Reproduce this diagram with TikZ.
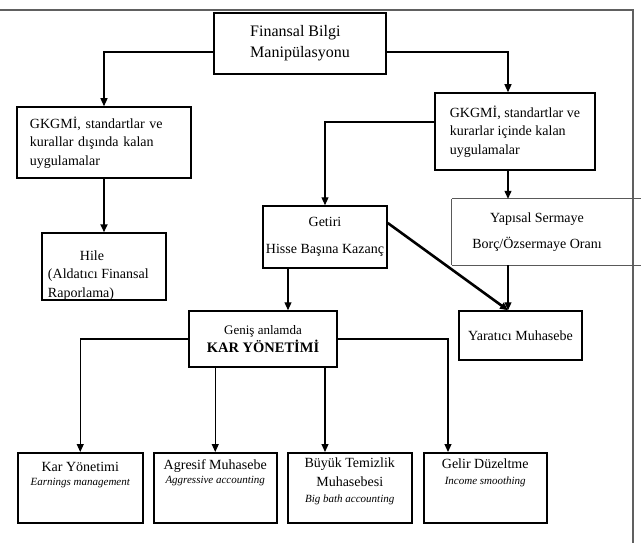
\documentclass[tikz,border=0pt]{standalone}
\usepackage{fontspec}
\setmainfont{Liberation Serif}
\usetikzlibrary{arrows.meta}

\begin{document}
\begin{tikzpicture}[x=1pt,y=-1pt,
    kutu/.style={draw,line width=1.5pt,inner sep=0pt,font=\fontsize{14}{18.5}\selectfont},
    ok/.style={line width=1.2pt,-{Triangle[length=8pt,width=7pt]}},
    ince/.style={line width=0.9pt,gray!70!black}]
  \useasboundingbox (0,0) rectangle (641,543);
  % dis cerceve
  \draw[line width=1.6pt,gray!75!black] (0,10) -- (633,10) -- (633,543);

  % ust kutular
  \node[kutu,minimum width=172pt,minimum height=61pt,align=left,font=\fontsize{16}{21}\selectfont] (fbm) at (300,43.5) {Finansal Bilgi\\Manipülasyonu};
  \node[kutu,minimum width=174pt,minimum height=71pt,text width=148pt,align=left] (disi) at (104,142.5) {GKGMİ, standartlar ve\\kurallar dışında kalan\\uygulamalar};
  \node[kutu,minimum width=160pt,minimum height=77pt,align=left] (ici) at (515,131.5) {GKGMİ, standartlar ve\\kurarlar içinde kalan\\uygulamalar};
  \node[kutu,minimum width=124pt,minimum height=67pt] (hile) at (104,266.5) {\parbox[c][67pt][t]{112pt}{\raggedright\rule{0pt}{27pt}\hspace*{32pt}Hile\\(Aldatıcı Finansal\\Raporlama)}};

  % orta kutular
  \node[kutu,minimum width=124pt,minimum height=62pt,align=center] (getiri) at (325,237) {Getiri\\[9pt]Hisse Başına Kazanç};
  \node[inner sep=0pt,minimum width=170pt,minimum height=66pt,align=center,font=\fontsize{14}{18.5}\selectfont] (yapi) at (537,232) {Yapısal Sermaye\\[8pt]Borç/Özsermaye Oranı};
  \draw[ince] (yapi.north west) -- (yapi.south west) (yapi.north west) -- ++(189,0) (yapi.south west) -- ++(189,0);
  \node[kutu,minimum width=123pt,minimum height=49pt] (yaratici) at (520.5,335.5) {Yaratıcı Muhasebe};
  \node[kutu,minimum width=148pt,minimum height=56pt,align=center] (kar) at (263,339) {{\fontsize{13}{16}\selectfont Geniş anlamda}\\{\bfseries\fontsize{14.5}{21}\selectfont KAR YÖNETİMİ}};

  % alt kutular
  \node[kutu,anchor=north west,minimum width=125pt,minimum height=70pt] (karyon) at (17,452) {\parbox[c][70pt][t]{125pt}{\centering\rule{0pt}{19pt}Kar Yönetimi\par{\fontsize{11}{14}\selectfont\itshape Earnings management\par}}};
  \node[kutu,anchor=north west,minimum width=123pt,minimum height=70pt] (agresif) at (153,452) {\parbox[c][70pt][t]{123pt}{\centering\rule{0pt}{17pt}Agresif Muhasebe\par{\fontsize{11}{14}\selectfont\itshape Aggressive accounting\par}}};
  \node[kutu,anchor=north west,minimum width=124pt,minimum height=70pt] (buyuk) at (287,452) {\parbox[c][70pt][t]{124pt}{\centering\rule{0pt}{15pt}Büyük Temizlik\\Muhasebesi\par{\fontsize{11}{16}\selectfont\itshape Big bath accounting\par}}};
  \node[kutu,anchor=north west,minimum width=123pt,minimum height=70pt] (gelir) at (423,452) {\parbox[c][70pt][t]{123pt}{\centering\rule{0pt}{16pt}Gelir Düzeltme\par{\fontsize{11}{16}\selectfont\itshape Income smoothing\par}}};

  % oklar
  \coordinate (cx) at (508,0);
  \coordinate (gx) at (288,0);
  \coordinate (sx) at (448,0);
  \draw[ok] ([yshift=-8.5pt]fbm.west) -| (disi.north);
  \draw[ok] ([yshift=-8.5pt]fbm.east) -| (ici.north -| cx);
  \draw[ok,line width=1.8pt] (disi.south) -- (hile.north);
  \draw[ok] ([yshift=9.5pt]ici.west) -| (getiri.north);
  \draw[ok] (ici.south -| cx) -- (yapi.north -| cx);
  \draw[ok] (yapi.south -| cx) -- (yaratici.north -| cx);
  \draw[ok,line width=2.6pt] ([yshift=14pt]getiri.east) -- (yaratici.north -| cx);
  \draw[ok] (getiri.south -| gx) -- (kar.north -| gx);
  \draw[ok] (kar.west) -| (karyon.north);
  \draw[ok] (kar.east) -| (gelir.north -| sx);
  \draw[ok] (kar.south -| agresif.north) -- (agresif.north);
  \draw[ok] (kar.south -| getiri.north) -- (buyuk.north -| getiri.north);
\end{tikzpicture}
\end{document}
